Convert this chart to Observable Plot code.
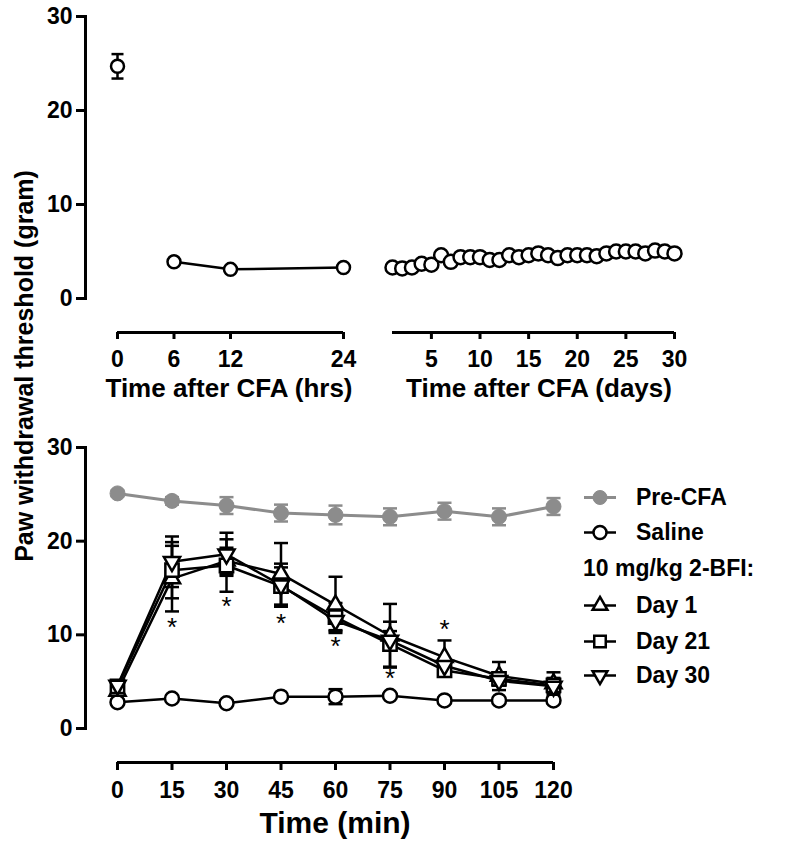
<!DOCTYPE html>
<html><head><meta charset="utf-8">
<script src="https://cdn.jsdelivr.net/npm/d3@7"></script>
<script src="https://cdn.jsdelivr.net/npm/@observablehq/plot@0.6"></script>
<style>
body{margin:0;background:#fff;}
#chart{position:relative;width:785px;height:848px;font-family:"Liberation Sans",Arial,Helvetica,sans-serif;font-weight:bold;color:#000;overflow:hidden;background:#fff;}
#chart svg.plotsvg{position:absolute;left:0;top:0;}
.t{position:absolute;white-space:nowrap;transform:translate(-50%,-50%);}
.leg{position:absolute;white-space:nowrap;display:flex;align-items:center;transform:translateY(-50%);}
</style></head><body><div id="chart"></div>
<script>
// ---------- data ----------
const yTicks = [0, 10, 20, 30];
const hrsTicks = [0, 6, 12, 24];
const hrs = [0, 6, 12, 24];
const hrsMean = [24.7, 3.9, 3.1, 3.3];
const hrsSem = [1.3, 0.3, 0.3, 0.3];

const dayTicks = [5, 10, 15, 20, 25, 30];
const days = [1,2,3,4,5,6,7,8,9,10,11,12,13,14,15,16,17,18,19,20,21,22,23,24,25,26,27,28,29,30];
const dayMean = [3.3,3.2,3.3,3.7,3.6,4.6,3.9,4.4,4.4,4.4,4.1,4.1,4.6,4.4,4.6,4.8,4.6,4.3,4.6,4.6,4.6,4.5,4.8,5.0,5.0,5.0,4.8,5.1,5.0,4.8];

const minTicks = [0, 15, 30, 45, 60, 75, 90, 105, 120];
const mins = [0, 15, 30, 45, 60, 75, 90, 105, 120];
const preMean = [25.1, 24.3, 23.8, 23.0, 22.8, 22.6, 23.2, 22.6, 23.7];
const preSem  = [0.3, 0.4, 0.9, 0.9, 1.0, 0.9, 0.9, 0.9, 0.9];
const salMean = [2.8, 3.2, 2.7, 3.4, 3.4, 3.5, 3.0, 3.0, 3.0];
const salSem  = [0.3, 0.3, 0.3, 0.3, 0.8, 0.3, 0.3, 0.3, 0.3];
const d1Mean  = [4.0, 16.0, 17.9, 16.5, 13.2, 9.9, 7.6, 5.6, 4.8];
const d1Sem   = [0.5, 3.5, 1.4, 3.3, 3.0, 3.4, 1.8, 1.5, 1.2];
const d21Mean = [4.5, 16.9, 17.4, 15.2, 11.9, 9.0, 6.2, 5.3, 4.6];
const d21Sem  = [0.6, 3.0, 2.8, 2.0, 1.5, 2.4, 0.6, 0.7, 0.8];
const d30Mean = [4.6, 17.8, 18.6, 15.3, 11.5, 9.4, 6.7, 5.1, 4.5];
const d30Sem  = [0.5, 2.7, 2.3, 2.3, 1.0, 1.0, 0.7, 0.5, 0.6];
const starMins = [15, 30, 45, 60, 75, 90];
const starY = [10.8, 13.0, 11.2, 8.7, 5.3, 10.6];

const yLabel = "Paw withdrawal threshold (gram)";
const hrsTitle = "Time after CFA (hrs)";
const daysTitle = "Time after CFA (days)";
const minTitle = "Time (min)";
const legendItems = [
  {label: "Pre-CFA", kind: "pre"},
  {label: "Saline", kind: "saline"},
  {label: "10 mg/kg 2-BFI:", kind: "head"},
  {label: "Day 1", kind: "d1"},
  {label: "Day 21", kind: "d21"},
  {label: "Day 30", kind: "d30"}
];

// ---------- helpers ----------
const W = 785, H = 848;
const FONT = "'Liberation Sans', Arial, Helvetica, sans-serif";
const GRAY = "#8c8c8c";
const SW = 2.5;
const axisFont = {fontSize: 23, fontWeight: "bold", fill: "black"};
const capSymbol = {draw(ctx, size) { const r = Math.sqrt(size / Math.PI); ctx.moveTo(-r, 0); ctx.lineTo(r, 0); }};

function rows(xs, means, sems) {
  return xs.map((x, i) => ({x, y: means[i], lo: means[i] - (sems ? sems[i] : 0), hi: means[i] + (sems ? sems[i] : 0)}));
}
function errMarks(data, color, capR) {
  return [
    Plot.ruleX(data, {x: "x", y1: "lo", y2: "hi", stroke: color, strokeWidth: SW}),
    Plot.dot(data, {x: "x", y: "lo", symbol: capSymbol, r: capR, stroke: color, strokeWidth: SW}),
    Plot.dot(data, {x: "x", y: "hi", symbol: capSymbol, r: capR, stroke: color, strokeWidth: SW})
  ];
}
function plotBase(o) {
  const svg = Plot.plot({
    width: W, height: H, marginLeft: 85, marginRight: 0,
    style: {background: "transparent", overflow: "visible", fontFamily: FONT},
    ...o
  });
  svg.classList.add("plotsvg");
  return svg;
}
const yDom = [yTicks[0], yTicks[yTicks.length - 1]];
function xAxis(ticks, dom, tickSize) {
  return [
    Plot.ruleY([yDom[0]], {x1: dom[0], x2: dom[1], dy: 34, stroke: "black", strokeWidth: 3}),
    Plot.axisX({ticks, tickSize, tickPadding: 11, dy: 34, strokeWidth: 3, label: null, ...axisFont})
  ];
}
function yAxis() {
  return [
    Plot.frame({anchor: "left", stroke: "black", strokeWidth: 3}),
    Plot.axisY({ticks: yTicks, tickSize: 9, tickPadding: 4, strokeWidth: 3, label: null, ...axisFont})
  ];
}

const chart = document.getElementById("chart");

// ---------- top-left: hours ----------
const hrsData = rows(hrs, hrsMean, hrsSem);
const hrsDom = [hrsTicks[0], hrsTicks[hrsTicks.length - 1]];
chart.appendChild(plotBase({
  marginTop: 16, marginBottom: H - 298,
  x: {domain: hrsDom, range: [117, 343]},
  y: {domain: yDom},
  marks: [
    ...yAxis(),
    ...xAxis(hrsTicks, hrsDom, 7),
    Plot.line(hrsData.filter(d => d.x > 0), {x: "x", y: "y", stroke: "black", strokeWidth: SW}),
    ...errMarks(hrsData, "black", 6),
    Plot.dot(hrsData, {x: "x", y: "y", r: 6.5, fill: "white", stroke: "black", strokeWidth: SW})
  ]
}));

// ---------- top-right: days ----------
const dayData = rows(days, dayMean, null);
const dayDom = [days[0], dayTicks[dayTicks.length - 1]];
chart.appendChild(plotBase({
  marginTop: 16, marginBottom: H - 298,
  x: {domain: dayDom, range: [392, 674]},
  y: {domain: yDom, axis: null},
  marks: [
    ...xAxis(dayTicks, dayDom, 7),
    Plot.dot(dayData, {x: "x", y: "y", r: 7, fill: "white", stroke: "black", strokeWidth: SW})
  ]
}));

// ---------- bottom: minutes ----------
const pre = rows(mins, preMean, preSem);
const sal = rows(mins, salMean, salSem);
const d1 = rows(mins, d1Mean, d1Sem);
const d21 = rows(mins, d21Mean, d21Sem);
const d30 = rows(mins, d30Mean, d30Sem);
const stars = starMins.map((x, i) => ({x, y: starY[i]}));
const minDom = [minTicks[0], minTicks[minTicks.length - 1]];
chart.appendChild(plotBase({
  marginTop: 447, marginBottom: H - 728,
  x: {domain: minDom, range: [117, 553]},
  y: {domain: yDom},
  marks: [
    ...yAxis(),
    ...xAxis(minTicks, minDom, 8),
    // Pre-CFA
    Plot.line(pre, {x: "x", y: "y", stroke: GRAY, strokeWidth: 3}),
    ...errMarks(pre, GRAY, 7),
    Plot.dot(pre, {x: "x", y: "y", r: 7.5, fill: GRAY, stroke: GRAY, strokeWidth: 1}),
    // Saline
    Plot.line(sal, {x: "x", y: "y", stroke: "black", strokeWidth: SW}),
    ...errMarks(sal, "black", 7),
    Plot.dot(sal, {x: "x", y: "y", r: 7, fill: "white", stroke: "black", strokeWidth: SW}),
    // drug groups
    Plot.line(d1, {x: "x", y: "y", stroke: "black", strokeWidth: SW}),
    Plot.line(d21, {x: "x", y: "y", stroke: "black", strokeWidth: SW}),
    Plot.line(d30, {x: "x", y: "y", stroke: "black", strokeWidth: SW}),
    ...errMarks(d1, "black", 7),
    ...errMarks(d21, "black", 7),
    ...errMarks(d30, "black", 7),
    Plot.dot(d1, {x: "x", y: "y", symbol: "triangle", r: 6, fill: "white", stroke: "black", strokeWidth: SW}),
    Plot.dot(d21, {x: "x", y: "y", symbol: "square", r: 7.5, fill: "white", stroke: "black", strokeWidth: SW}),
    Plot.dot(d30, {x: "x", y: "y", symbol: "triangle", rotate: 180, r: 6, fill: "white", stroke: "black", strokeWidth: SW}),
    Plot.text(stars, {x: "x", y: "y", text: () => "*", fontSize: 26, fontWeight: "normal", fill: "black"})
  ]
}));

// ---------- titles ----------
function addText(txt, x, y, size, extra) {
  const d = document.createElement("div");
  d.className = "t";
  d.textContent = txt;
  d.style.left = x + "px"; d.style.top = y + "px"; d.style.fontSize = size + "px";
  if (extra) d.style.transform = extra;
  chart.appendChild(d);
  return d;
}
addText(yLabel, 24, 366, 25, "translate(-50%,-50%) rotate(-90deg)");
addText(hrsTitle, 229, 388, 26);
addText(daysTitle, 539, 388, 26);
addText(minTitle, 335, 823, 30);

// ---------- legend ----------
const legTop = [497, 532, 568, 605, 641, 675];
const symDef = {
  pre: {type: d3.symbolCircle, r: 7, fill: GRAY, stroke: GRAY, line: GRAY, rot: 0},
  saline: {type: d3.symbolCircle, r: 6.5, fill: "white", stroke: "black", line: "black", rot: 0},
  d1: {type: d3.symbolTriangle, r: 5.5, fill: "white", stroke: "black", line: "black", rot: 0},
  d21: {type: d3.symbolSquare, r: 6.5, fill: "white", stroke: "black", line: "black", rot: 0},
  d30: {type: d3.symbolTriangle, r: 5.5, fill: "white", stroke: "black", line: "black", rot: 180}
};
legendItems.forEach((it, i) => {
  const row = document.createElement("div");
  row.className = "leg";
  row.style.left = "583px";
  row.style.top = legTop[i] + "px";
  row.style.fontSize = "23px";
  if (it.kind !== "head") {
    const s = symDef[it.kind];
    const ns = "http://www.w3.org/2000/svg";
    const svg = document.createElementNS(ns, "svg");
    svg.setAttribute("width", 34); svg.setAttribute("height", 24);
    svg.style.marginRight = "19px"; svg.style.overflow = "visible";
    const ln = document.createElementNS(ns, "line");
    ln.setAttribute("x1", 1); ln.setAttribute("x2", 33); ln.setAttribute("y1", 12); ln.setAttribute("y2", 12);
    ln.setAttribute("stroke", s.line); ln.setAttribute("stroke-width", it.kind === "pre" ? 3 : SW);
    svg.appendChild(ln);
    const p = document.createElementNS(ns, "path");
    p.setAttribute("d", d3.symbol(s.type, Math.PI * s.r * s.r)());
    p.setAttribute("transform", `translate(17,12) rotate(${s.rot})`);
    p.setAttribute("fill", s.fill); p.setAttribute("stroke", s.stroke);
    p.setAttribute("stroke-width", it.kind === "pre" ? 1 : SW);
    svg.appendChild(p);
    row.appendChild(svg);
  }
  const sp = document.createElement("span");
  sp.textContent = it.label;
  row.appendChild(sp);
  chart.appendChild(row);
});
</script></body></html>
